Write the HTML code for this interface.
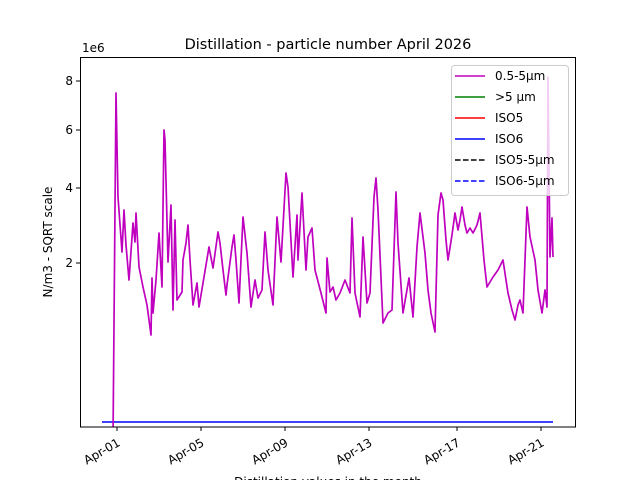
<!DOCTYPE html>
<html><head><meta charset="utf-8"><style>
html,body{margin:0;padding:0;background:#fff;}
svg{display:block;font-family:"DejaVu Sans","Liberation Sans",sans-serif;}
</style></head><body>
<svg width="640" height="480" viewBox="0 0 640 480" xmlns="http://www.w3.org/2000/svg">
<rect width="640" height="480" fill="#fff"/>
<text x="328" y="49" font-size="14.5" text-anchor="middle" fill="#000">Distillation - particle number April 2026</text>
<text x="82" y="52" font-size="12" fill="#000">1e6</text>
<defs><clipPath id="c"><rect x="80" y="58" width="496" height="369"/></clipPath></defs>
<g clip-path="url(#c)">
<line x1="102" y1="422" x2="553" y2="422" stroke="#0000ff" stroke-width="1.5"/>
<polyline fill="none" stroke="#bf00bf" stroke-width="1.7" stroke-linejoin="round" points="
113,440 116,93 118,197 122,252 124,210 126,245 129,280 133,223 135,242 136,213 139,267 143,287 147,305 151,335 152,278 153,313 156,280 159,233 162,287 164,130 165,140 168,262 171,205 173,310 175,220 177,300 182,292 183,260 186,243 188,225 190,260 193,305 197,283 199,307 204,277 209,247 213,268 218,232 220,243 223,270 226,295 227,285 232,247 234,235 236,260 239,303 243,217 247,253 251,307 255,280 258,298 262,290 265,232 268,270 273,305 277,217 281,262 286,173 288,187 293,277 297,215 298,260 302,193 306,270 308,237 312,228 315,270 321,293 326,313 327,258 330,292 333,287 336,300 340,293 345,280 350,293 352,218 355,293 360,317 363,237 367,303 370,293 374,197 376,178 378,210 383,323 388,313 392,310 396,192 398,243 403,313 409,278 413,317 417,247 420,213 425,253 428,290 431,313 435,332 438,215 441,193 443,200 446,240 448,260 452,235 455,213 458,230 460,220 462,207 465,225 467,233 470,228 473,233 477,225 480,213 484,260 487,287 493,277 498,270 503,260 506,280 508,293 512,310 515,320 518,305 520,300 523,313 527,207 530,237 535,260 538,290 542,313 545,290 547,307 548,77 550,257 552,218 553,257"/>
</g>
<rect x="80.5" y="57.5" width="495" height="369.5" fill="none" stroke="#000" stroke-width="1"/>
<g font-size="12" fill="#000" text-anchor="end">
<line x1="76" y1="263" x2="80" y2="263" stroke="#000"/><text x="73" y="267">2</text>
<line x1="76" y1="188" x2="80" y2="188" stroke="#000"/><text x="73" y="192">4</text>
<line x1="76" y1="130" x2="80" y2="130" stroke="#000"/><text x="73" y="134">6</text>
<line x1="76" y1="81" x2="80" y2="81" stroke="#000"/><text x="73" y="85">8</text>
</g>
<text transform="translate(52,242) rotate(-90)" font-size="12" text-anchor="middle" fill="#000">N/m3 - SQRT scale</text>
<g font-size="12" fill="#000" text-anchor="end">
<line x1="117" y1="427" x2="117" y2="431" stroke="#000"/><text transform="translate(121,445) rotate(-30)">Apr-01</text>
<line x1="201" y1="427" x2="201" y2="431" stroke="#000"/><text transform="translate(205,445) rotate(-30)">Apr-05</text>
<line x1="285" y1="427" x2="285" y2="431" stroke="#000"/><text transform="translate(289,445) rotate(-30)">Apr-09</text>
<line x1="369" y1="427" x2="369" y2="431" stroke="#000"/><text transform="translate(373,445) rotate(-30)">Apr-13</text>
<line x1="457" y1="427" x2="457" y2="431" stroke="#000"/><text transform="translate(461,445) rotate(-30)">Apr-17</text>
<line x1="541" y1="427" x2="541" y2="431" stroke="#000"/><text transform="translate(545,445) rotate(-30)">Apr-21</text>
</g>
<text x="328" y="486" font-size="12" text-anchor="middle" fill="#000">Distillation values in the month</text>
<rect x="451.5" y="65.5" width="117" height="130" rx="3" fill="#fff" fill-opacity="0.8" stroke="#ccc"/>
<g font-size="12" fill="#000">
<line x1="455" y1="76" x2="485" y2="76" stroke="#bf00bf" stroke-width="1.5"/><text x="495" y="80">0.5-5µm</text>
<line x1="455" y1="97" x2="485" y2="97" stroke="#008000" stroke-width="1.5"/><text x="495" y="101">&gt;5 µm</text>
<line x1="455" y1="118" x2="485" y2="118" stroke="#ff0000" stroke-width="1.5"/><text x="495" y="122">ISO5</text>
<line x1="455" y1="139" x2="485" y2="139" stroke="#0000ff" stroke-width="1.5"/><text x="495" y="143">ISO6</text>
<line x1="455" y1="160" x2="485" y2="160" stroke="#000" stroke-width="1.5" stroke-dasharray="5.5,2.5"/><text x="495" y="164">ISO5-5µm</text>
<line x1="455" y1="181" x2="485" y2="181" stroke="#0000ff" stroke-width="1.5" stroke-dasharray="5.5,2.5"/><text x="495" y="185">ISO6-5µm</text>
</g>
</svg>
</body></html>
